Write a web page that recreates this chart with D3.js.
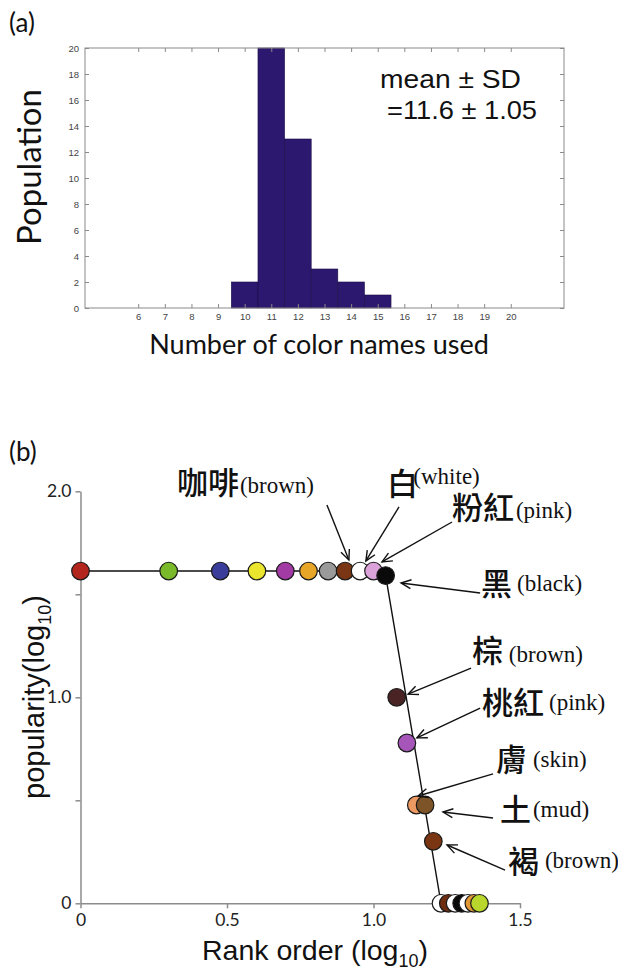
<!DOCTYPE html>
<html><head><meta charset="utf-8">
<script src="https://cdn.jsdelivr.net/npm/d3@7"></script>
<style>
html,body{margin:0;padding:0;background:#fff;}
svg{display:block;}
</style></head><body>
<svg id="chart" width="618" height="971"></svg>
<script>
// ---------- Panel (a): histogram ----------
const histBins   = [10, 11, 12, 13, 14, 15];
const histCounts = [2, 20, 13, 3, 2, 1];
const histXTicks = [6, 7, 8, 9, 10, 11, 12, 13, 14, 15, 16, 17, 18, 19, 20];
const histYTicks = [0, 2, 4, 6, 8, 10, 12, 14, 16, 18, 20];
const statLine1 = "mean \u00b1 SD";
const statLine2 = "=11.6 \u00b1 1.05";

// ---------- Panel (b): rank / popularity ----------
const ranks  = [1, 2, 3, 4, 5, 6, 7, 8, 9, 10, 11, 12, 13, 14, 15, 16, 17, 18, 19, 20, 21, 22, 23];
const counts = [41, 41, 41, 41, 41, 41, 41, 41, 41, 41, 39, 10, 6, 3, 3, 2, 1, 1, 1, 1, 1, 1, 1];
const dotColors = ["#b3261e", "#7ab929", "#3a3d99", "#ece52e", "#a23ba3", "#e8a628", "#9a9a9a",
  "#7a3514", "#ffffff", "#dba2d9", "#0a0a0a", "#4a2424", "#a656b8", "#ec9a62", "#7c5427",
  "#7a3513", "#ffffff", "#6e2d0e", "#ffffff", "#0a0a0a", "#ffffff", "#e29735", "#b8d62c"];
const lineRanks  = [1, 10, 11, 17, 23];
const lineCounts = [41, 41, 39, 1, 1];
const rankTicks = [0, 0.5, 1.0, 1.5];
const rankTickLabels = ["0", "0.5", "1.0", "1.5"];
const popTicks = [0, 0.5, 1.0, 1.5, 2.0];
const popTickLabels = ["0", "", "1.0", "", "2.0"];
const annZh = ["咖啡", "白", "粉紅", "黑", "棕", "桃紅", "膚", "土", "褐"];
const annEn = ["(brown)", "(white)", "(pink)", "(black)", "(brown)", "(pink)", "(skin)", "(mud)", "(brown)"];
// annotation layout, in panel (b) data units [log rank, log popularity]
const annLayout = [
  {zh: [0.329, 1.987], en: [0.544, 1.992], tail: [0.841, 1.934], tip: [0.916, 1.667]},
  {zh: [1.046, 1.982], en: [1.136, 2.036], tail: [1.087, 1.924], tip: [0.974, 1.662]},
  {zh: [1.268, 1.866], en: [1.486, 1.870], tail: [1.268, 1.851], tip: [1.029, 1.657]},
  {zh: [1.367, 1.497], en: [1.490, 1.516], tail: [1.364, 1.506], tip: [1.094, 1.555]},
  {zh: [1.336, 1.171], en: [1.462, 1.171], tail: [1.333, 1.142], tip: [1.118, 1.015]},
  {zh: [1.370, 0.919], en: [1.599, 0.939], tail: [1.364, 0.948], tip: [1.148, 0.803]},
  {zh: [1.418, 0.642], en: [1.544, 0.662], tail: [1.408, 0.628], tip: [1.152, 0.521]},
  {zh: [1.432, 0.400], en: [1.544, 0.419], tail: [1.408, 0.414], tip: [1.237, 0.443]},
  {zh: [1.459, 0.147], en: [1.585, 0.171], tail: [1.449, 0.161], tip: [1.251, 0.283]}
];

const svg = d3.select("#chart");

// ===== Panel (a) =====
const A = {left: 85, right: 564, top: 48, bottom: 308};
const xa = d3.scaleLinear().domain([4, 22]).range([A.left, A.right]);
const ya = d3.scaleLinear().domain([0, 20]).range([A.bottom, A.top]);
const ga = svg.append("g");

ga.selectAll("rect.bar").data(histBins).join("rect")
  .attr("class", "bar")
  .attr("x", d => xa(d - 0.5))
  .attr("width", d => xa(d + 0.5) - xa(d - 0.5))
  .attr("y", (d, i) => ya(histCounts[i]))
  .attr("height", (d, i) => ya(0) - ya(histCounts[i]))
  .attr("fill", "#2d186f")
  .attr("stroke", "#1a0d45")
  .attr("stroke-width", 0.6);

function styleAxisA(g) {
  g.select(".domain").remove();
  g.selectAll(".tick line").attr("stroke", "#8a8a8a");
  g.selectAll("text").attr("fill", "#444").attr("font-family", "Liberation Sans, Arial, sans-serif").attr("font-size", 9.5);
}
ga.append("g").attr("transform", `translate(0,${A.bottom})`)
  .call(d3.axisBottom(xa).tickValues(histXTicks).tickSizeInner(-4).tickSizeOuter(0).tickPadding(5))
  .call(styleAxisA);
ga.append("g").attr("transform", `translate(0,${A.top})`)
  .call(d3.axisTop(xa).tickValues(histXTicks).tickSizeInner(-4).tickSizeOuter(0).tickFormat(""))
  .call(styleAxisA);
ga.append("g").attr("transform", `translate(${A.left},0)`)
  .call(d3.axisLeft(ya).tickValues(histYTicks).tickSizeInner(-4).tickSizeOuter(0).tickPadding(6))
  .call(styleAxisA);
ga.append("g").attr("transform", `translate(${A.right},0)`)
  .call(d3.axisRight(ya).tickValues(histYTicks).tickSizeInner(-4).tickSizeOuter(0).tickFormat(""))
  .call(styleAxisA);
ga.append("rect").attr("x", A.left).attr("y", A.top)
  .attr("width", A.right - A.left).attr("height", A.bottom - A.top)
  .attr("fill", "none").attr("stroke", "#8a8a8a").attr("stroke-width", 1);

ga.append("text").attr("x", 380).attr("y", 88).text(statLine1)
  .attr("textLength", 141).attr("lengthAdjust", "spacingAndGlyphs")
  .attr("font-family", "Liberation Sans, Arial, sans-serif").attr("font-size", 25).attr("fill", "#111");
ga.append("text").attr("x", 387).attr("y", 119).text(statLine2)
  .attr("textLength", 150).attr("lengthAdjust", "spacingAndGlyphs")
  .attr("font-family", "Liberation Sans, Arial, sans-serif").attr("font-size", 25).attr("fill", "#111");

svg.append("text").attr("x", 9).attr("y", 32).text("(a)")
  .attr("font-family", "Lato, sans-serif").attr("font-size", 26).attr("fill", "#111");
svg.append("text").attr("transform", "translate(41,167) rotate(-90)")
  .attr("text-anchor", "middle").text("Population")
  .attr("font-family", "Lato, sans-serif").attr("font-size", 33).attr("fill", "#111");
svg.append("text").attr("x", 319).attr("y", 354).attr("text-anchor", "middle")
  .text("Number of color names used")
  .attr("font-family", "Lato, sans-serif").attr("font-size", 27).attr("fill", "#111");

// ===== Panel (b) =====
const xb = d3.scaleLinear().domain([0, 1.5]).range([80.5, 520]);
const yb = d3.scaleLinear().domain([0, 2]).range([903.3, 491.3]);
const gb = svg.append("g");

function styleAxisB(g) {
  g.select(".domain").attr("stroke", "#8c8c8c").attr("stroke-width", 1.5);
  g.selectAll(".tick line").attr("stroke", "#8c8c8c").attr("stroke-width", 1.5);
  g.selectAll("text").attr("fill", "#222").attr("font-family", "Lato, sans-serif").attr("font-size", 17.5);
}
gb.append("g").attr("transform", `translate(0,${yb(0)})`)
  .call(d3.axisBottom(xb).tickValues(rankTicks).tickSizeInner(5).tickSizeOuter(0).tickPadding(5)
    .tickFormat((d, i) => rankTickLabels[i]))
  .call(styleAxisB);
gb.append("g").attr("transform", `translate(${xb(0)},0)`)
  .call(d3.axisLeft(yb).tickValues(popTicks).tickSizeInner(5).tickSizeOuter(0).tickPadding(4)
    .tickFormat((d, i) => popTickLabels[i]))
  .call(styleAxisB);

const line = d3.line().x(d => xb(Math.log10(d[0]))).y(d => yb(Math.log10(d[1])));
gb.append("path").datum(lineRanks.map((r, i) => [r, lineCounts[i]]))
  .attr("d", line).attr("fill", "none").attr("stroke", "#111").attr("stroke-width", 1.4);

gb.selectAll("circle.dot").data(ranks).join("circle")
  .attr("class", "dot")
  .attr("cx", d => xb(Math.log10(d)))
  .attr("cy", (d, i) => yb(Math.log10(counts[i])))
  .attr("r", 8.8)
  .attr("fill", (d, i) => dotColors[i])
  .attr("stroke", "#1a1a1a").attr("stroke-width", 1.2);

// arrows
const defs = svg.append("defs");
defs.append("marker").attr("id", "vhead").attr("viewBox", "-12 -6 14 12")
  .attr("refX", 0).attr("refY", 0).attr("markerWidth", 14).attr("markerHeight", 12)
  .attr("markerUnits", "userSpaceOnUse").attr("orient", "auto")
  .append("path").attr("d", "M-10,-4.5 L0,0 L-10,4.5").attr("fill", "none")
  .attr("stroke", "#111").attr("stroke-width", 1.4);

gb.selectAll("line.arrow").data(annLayout).join("line")
  .attr("class", "arrow")
  .attr("x1", d => xb(d.tail[0])).attr("y1", d => yb(d.tail[1]))
  .attr("x2", d => xb(d.tip[0])).attr("y2", d => yb(d.tip[1]))
  .attr("stroke", "#111").attr("stroke-width", 1.4).attr("marker-end", "url(#vhead)");

gb.selectAll("text.zh").data(annLayout).join("text")
  .attr("class", "zh")
  .attr("x", d => xb(d.zh[0])).attr("y", d => yb(d.zh[1]))
  .text((d, i) => annZh[i])
  .attr("font-family", "Noto Sans CJK TC, Noto Sans CJK SC, sans-serif")
  .attr("font-weight", 500).attr("font-size", 31).attr("fill", "#111");
gb.selectAll("text.en").data(annLayout).join("text")
  .attr("class", "en")
  .attr("x", d => xb(d.en[0])).attr("y", d => yb(d.en[1]))
  .text((d, i) => annEn[i])
  .attr("font-family", "Liberation Serif, Times New Roman, serif")
  .attr("font-size", 23).attr("fill", "#111");

svg.append("text").attr("x", 9).attr("y", 461).text("(b)")
  .attr("font-family", "Lato, sans-serif").attr("font-size", 26).attr("fill", "#111");

const xl = svg.append("text").attr("x", 315).attr("y", 960).attr("text-anchor", "middle")
  .attr("font-family", "Liberation Sans, Arial, sans-serif").attr("font-size", 28.5).attr("fill", "#111");
xl.append("tspan").text("Rank order (log");
xl.append("tspan").attr("font-size", 18).attr("dy", 7).text("10");
xl.append("tspan").attr("dy", -7).text(")");

const yl = svg.append("text").attr("transform", "translate(44,697) rotate(-90)").attr("text-anchor", "middle")
  .attr("font-family", "Liberation Sans, Arial, sans-serif").attr("font-size", 29).attr("fill", "#111");
yl.append("tspan").text("popularity(log");
yl.append("tspan").attr("font-size", 18).attr("dy", 7).text("10");
yl.append("tspan").attr("dy", -7).text(")");
</script>
</body></html>
